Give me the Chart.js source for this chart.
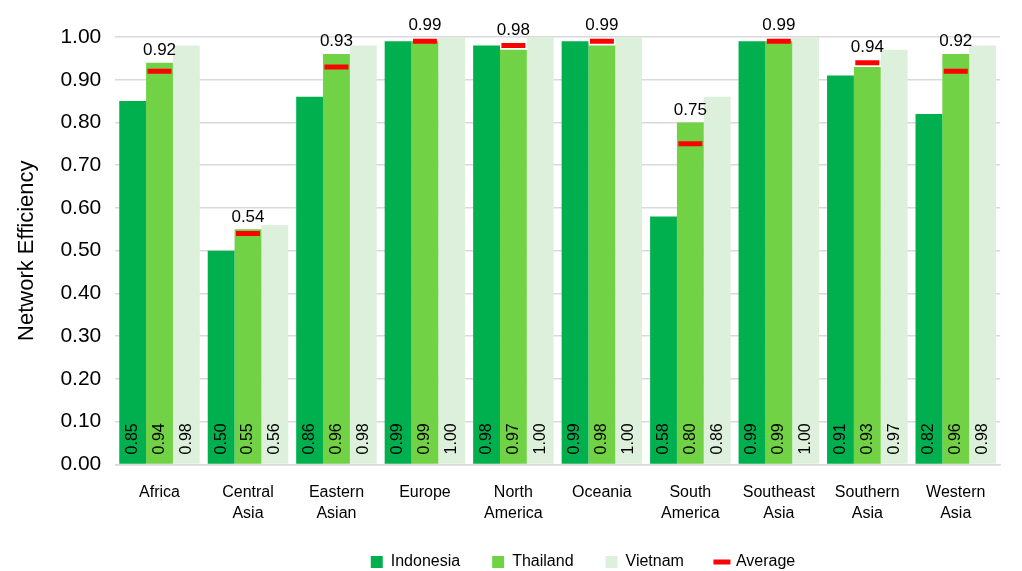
<!DOCTYPE html>
<html>
<head>
<meta charset="utf-8">
<script src="https://cdn.jsdelivr.net/npm/chart.js@4.4.1/dist/chart.umd.min.js"></script>
<style>
html,body{margin:0;padding:0;background:#fff;}
#wrap{width:1022px;height:571px;position:relative;}
</style>
</head>
<body>
<div id="wrap"><canvas id="c" width="1022" height="571"></canvas></div>
<script>
const categories = [['Africa'], ['Central', 'Asia'], ['Eastern', 'Asian'], ['Europe'], ['North', 'America'], ['Oceania'], ['South', 'America'], ['Southeast', 'Asia'], ['Southern', 'Asia'], ['Western', 'Asia']];
const indonesia = [0.85, 0.50, 0.86, 0.99, 0.98, 0.99, 0.58, 0.99, 0.91, 0.82];
const thailand  = [0.94, 0.55, 0.96, 0.99, 0.97, 0.98, 0.80, 0.99, 0.93, 0.96];
const vietnam   = [0.98, 0.56, 0.98, 1.00, 1.00, 1.00, 0.86, 1.00, 0.97, 0.98];
const average   = [0.92, 0.54, 0.93, 0.99, 0.98, 0.99, 0.75, 0.99, 0.94, 0.92];
const yTicks = [0, 0.1, 0.2, 0.3, 0.4, 0.5, 0.6, 0.7, 0.8, 0.9, 1.0];

const FONT = "'Liberation Sans', Arial, sans-serif";
Chart.defaults.font.family = FONT;
Chart.defaults.color = '#000';

const labelPlugin = {
  id: 'labelPlugin',
  afterLayout(chart) {
    const lg = chart.legend;
    if (!lg) return;
    const pad = lg.options.labels.padding;
    const targetTop = 562 - pad - 8;
    const dy = targetTop - lg.top;
    lg.top += dy; lg.bottom += dy;
    const dx = 583 - (lg.left + lg.right) / 2;
    lg.left += dx; lg.right += dx;
  },
  afterDatasetsDraw(chart) {
    const ctx = chart.ctx;
    ctx.save();
    ctx.font = '16px ' + FONT;
    ctx.fillStyle = '#000';
    const yBase = chart.scales.y.getPixelForValue(0);
    [0, 1, 2].forEach(di => {
      const meta = chart.getDatasetMeta(di);
      meta.data.forEach((bar, i) => {
        const v = chart.data.datasets[di].data[i];
        ctx.save();
        ctx.translate(bar.x, yBase - 10);
        ctx.rotate(-Math.PI / 2);
        ctx.textAlign = 'left';
        ctx.textBaseline = 'middle';
        ctx.fillText(v.toFixed(2), 0, 0);
        ctx.restore();
      });
    });
    ctx.font = '17px ' + FONT;
    ctx.textAlign = 'center';
    ctx.textBaseline = 'bottom';
    const avgMeta = chart.getDatasetMeta(3);
    const thMeta = chart.getDatasetMeta(1);
    avgMeta.data.forEach((pt, i) => {
      const top = Math.min(pt.y - 3, thMeta.data[i].y);
      ctx.fillText(average[i].toFixed(2), pt.x, top - 4);
    });
    ctx.restore();
  }
};

const barCommon = { borderWidth: 0, pointStyle: 'rect', order: 2, categoryPercentage: 0.91, barPercentage: 1.0 };

new Chart(document.getElementById('c'), {
  type: 'bar',
  data: {
    labels: categories,
    datasets: [
      Object.assign({ label: 'Indonesia', data: indonesia, backgroundColor: '#00b04f' }, barCommon),
      Object.assign({ label: 'Thailand', data: thailand, backgroundColor: '#70d244' }, barCommon),
      Object.assign({ label: 'Vietnam', data: vietnam, backgroundColor: '#dcf0dc' }, barCommon),
      { label: 'Average', type: 'line', data: average, showLine: false, pointStyle: 'line', pointRadius: 12, pointHoverRadius: 12, borderColor: '#ff0000', backgroundColor: '#ff0000', pointBorderWidth: 5, borderWidth: 5, order: 1 }
    ]
  },
  options: {
    responsive: false,
    animation: false,
    events: [],
    layout: { padding: { top: 37, right: 22, left: 14, bottom: -29 } },
    scales: {
      x: {
        grid: { display: false, drawTicks: false },
        border: { display: true, color: '#d9d9d9', width: 1.5 },
        ticks: { font: { size: 16, lineHeight: 1.3 }, color: '#000', padding: 18, maxRotation: 0, autoSkip: false }
      },
      y: {
        min: 0, max: 1,
        afterBuildTicks(scale) { scale.ticks = yTicks.map(v => ({ value: v })); },
        grid: { color: '#d9d9d9', lineWidth: 1.5, drawTicks: false },
        border: { display: false },
        ticks: { font: { size: 21 }, color: '#000', padding: 14, callback: v => Number(v).toFixed(2) },
        title: { display: true, text: 'Network Efficiency', font: { size: 22 }, color: '#000', padding: { top: 0, bottom: 6 } }
      }
    },
    plugins: {
      legend: {
        position: 'bottom',
        labels: { usePointStyle: true, font: { size: 16 }, color: '#000', boxWidth: 12, boxHeight: 12, padding: 32,
                  sort: (a, b) => a.datasetIndex - b.datasetIndex }
      },
      tooltip: { enabled: false }
    }
  },
  plugins: [labelPlugin]
});
</script>
</body>
</html>
